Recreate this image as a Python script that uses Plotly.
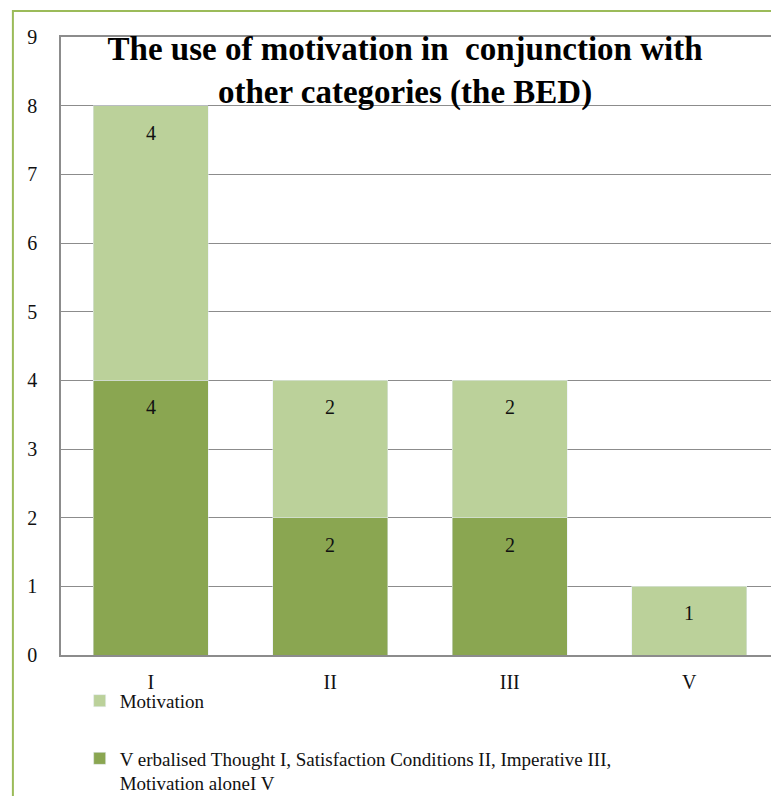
import plotly.graph_objects as go

categories = ["I", "II", "III", "V"]
other_category = [4, 2, 2, 0]
motivation = [4, 2, 2, 1]

dark_green = "#8AA651"
light_green = "#BBD19A"
serif = "Liberation Serif"

fig = go.Figure()
fig.add_trace(go.Bar(
    x=categories, y=other_category,
    name="V erbalised Thought I, Satisfaction Conditions II, Imperative III,<br>Motivation aloneI V",
    marker_color=dark_green, legendgroup="a", legendrank=2,
))
fig.add_trace(go.Bar(
    x=categories, y=motivation,
    name="Motivation", marker_color=light_green, legendgroup="b", legendrank=1,
))

# value labels near the top of each segment
base = [0] * len(categories)
for vals in (other_category, motivation):
    for i, v in enumerate(vals):
        top = base[i] + v
        if v > 0:
            fig.add_annotation(x=categories[i], y=top, text=str(v), showarrow=False,
                               yanchor="middle", yshift=-27,
                               font=dict(family=serif, size=20, color="#111"))
        base[i] = top

# page has an 8px body margin, so the figure is 8px smaller than the window
fig.update_layout(
    width=771, height=788,
    barmode="stack", bargap=0.36,
    plot_bgcolor="white", paper_bgcolor="white",
    margin=dict(l=53, r=0, t=29, b=141, autoexpand=False),
    font=dict(family=serif, size=20, color="#111"),
    title=dict(
        text="<b>The use of motivation in  conjunction with<br>other categories (the BED)</b>",
        x=0.515, xanchor="center", y=0.934, yanchor="top",
        font=dict(family=serif, size=33, color="#000"),
    ),
    legend=dict(
        x=0.026, xanchor="left", y=-0.0434, yanchor="top",
        traceorder="grouped", tracegroupgap=30, valign="top",
        font=dict(family=serif, size=19, color="#111"),
        bgcolor="rgba(0,0,0,0)",
    ),
    shapes=[dict(type="rect", xref="paper", yref="paper",
                 x0=-0.067, x1=1.05, y0=-0.3, y1=1.042,
                 line=dict(color="#9BBB59", width=2), layer="below")],
)
fig.update_xaxes(showline=True, linecolor="#8c8c8c", linewidth=1.5, mirror=True,
                 tickfont=dict(size=20), ticks="", ticklabelstandoff=8)
fig.update_yaxes(range=[0, 9], dtick=1, showgrid=True, gridcolor="#8c8c8c", gridwidth=1,
                 showline=True, linecolor="#8c8c8c", linewidth=1.5, zeroline=False,
                 tickfont=dict(size=20), ticklabelstandoff=18)

fig.write_html("out.html")
